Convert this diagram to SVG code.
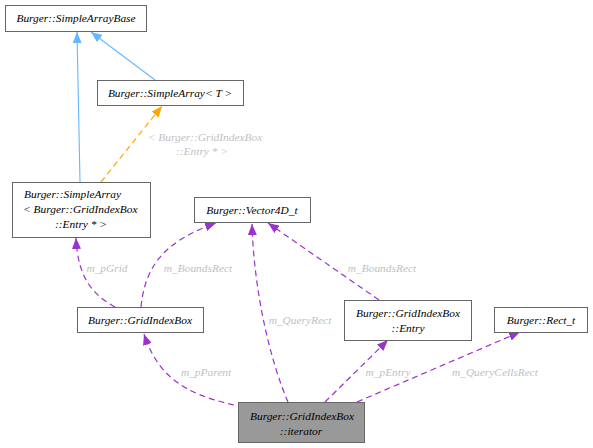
<svg xmlns="http://www.w3.org/2000/svg" width="593" height="448" viewBox="0 0 593 448">
<style>
.box{fill:#ffffff;stroke:#666666;stroke-width:1}
.cur{fill:#999999;stroke:#666666;stroke-width:1}
text{font-family:"Liberation Serif","DejaVu Serif",serif;font-style:italic;font-size:11.4px}
.nt{fill:#000000}
.lb{fill:#bfbfbf}
.mid{text-anchor:middle}
.inh{fill:none;stroke:#63b8ff;stroke-width:1.1}
.tpl{fill:none;stroke:#ffa500;stroke-width:1.2;stroke-dasharray:6,4}
.use{fill:none;stroke:#9a32cd;stroke-width:1.2;stroke-dasharray:6,4}
</style>
<defs>
<marker id="aBlue" viewBox="0 0 11 9" refX="11" refY="4.5" markerWidth="11" markerHeight="9" markerUnits="userSpaceOnUse" orient="auto"><path d="M0,0 L11,4.5 L0,9 z" fill="#63b8ff"/></marker>
<marker id="aOrange" viewBox="0 0 11 9" refX="11" refY="4.5" markerWidth="11" markerHeight="9" markerUnits="userSpaceOnUse" orient="auto"><path d="M0,0 L11,4.5 L0,9 z" fill="#ffa500"/></marker>
<marker id="aPurple" viewBox="0 0 11 9" refX="11" refY="4.5" markerWidth="11" markerHeight="9" markerUnits="userSpaceOnUse" orient="auto"><path d="M0,0 L11,4.5 L0,9 z" fill="#9a32cd"/></marker>
</defs>
<g id="connectors">
<path class="inh" d="M80,182 L77,32" marker-end="url(#aBlue)"/>
<path class="inh" d="M155,80 L91,32" marker-end="url(#aBlue)"/>
<path class="tpl" d="M101,182 L162,106" marker-end="url(#aOrange)"/>
<path class="use" d="M115,307 C96,296 78,282 76,238" marker-end="url(#aPurple)"/>
<path class="use" d="M141,307 C145,268 162,242 216,223" marker-end="url(#aPurple)"/>
<path class="use" d="M288,402 C270,360 254,292 252,224" marker-end="url(#aPurple)"/>
<path class="use" d="M379,300 L268,223" marker-end="url(#aPurple)"/>
<path class="use" d="M234,405 C196,396 160,384 144,334" marker-end="url(#aPurple)"/>
<path class="use" d="M325,402 L388,340" marker-end="url(#aPurple)"/>
<path class="use" d="M357,402 L520,332" marker-end="url(#aPurple)"/>
<text class="lb mid" x="205" y="141">&lt; Burger::GridIndexBox</text>
<text class="lb mid" x="202" y="155">::Entry * &gt;</text>
<text class="lb mid" x="107" y="272">m_pGrid</text>
<text class="lb mid" x="198" y="272">m_BoundsRect</text>
<text class="lb mid" x="300" y="324">m_QueryRect</text>
<text class="lb mid" x="382" y="272">m_BoundsRect</text>
<text class="lb mid" x="206" y="376">m_pParent</text>
<text class="lb mid" x="388" y="376">m_pEntry</text>
<text class="lb mid" x="495" y="376">m_QueryCellsRect</text>
</g>
<g id="SimpleArrayBase">
<rect class="box" x="5.5" y="5.5" width="141" height="26"/>
<text class="nt mid" x="76" y="22">Burger::SimpleArrayBase</text>
</g>
<g id="SimpleArrayT">
<rect class="box" x="97.5" y="80.5" width="146" height="25"/>
<text class="nt mid" x="170" y="96.5">Burger::SimpleArray&lt; T &gt;</text>
</g>
<g id="SimpleArrayEntry">
<rect class="box" x="12.5" y="182.5" width="138" height="55"/>
<text class="nt" x="24" y="198">Burger::SimpleArray</text>
<text class="nt" x="23" y="213">&lt; Burger::GridIndexBox</text>
<text class="nt mid" x="81" y="228">::Entry * &gt;</text>
</g>
<g id="Vector4D">
<rect class="box" x="194.5" y="197.5" width="116" height="25"/>
<text class="nt mid" x="252" y="213.5">Burger::Vector4D_t</text>
</g>
<g id="GridIndexBox">
<rect class="box" x="77.5" y="307.5" width="126" height="25"/>
<text class="nt mid" x="140" y="323.5">Burger::GridIndexBox</text>
</g>
<g id="Entry">
<rect class="box" x="344.5" y="300.5" width="127" height="40"/>
<text class="nt mid" x="408" y="317">Burger::GridIndexBox</text>
<text class="nt mid" x="408" y="331.5">::Entry</text>
</g>
<g id="Rect_t">
<rect class="box" x="494.5" y="307.5" width="93" height="25"/>
<text class="nt mid" x="541" y="323.5">Burger::Rect_t</text>
</g>
<g id="iterator">
<rect class="cur" x="238.5" y="402.5" width="126" height="40"/>
<text class="nt mid" x="302" y="420">Burger::GridIndexBox</text>
<text class="nt mid" x="301" y="434.5">::iterator</text>
</g>
</svg>
